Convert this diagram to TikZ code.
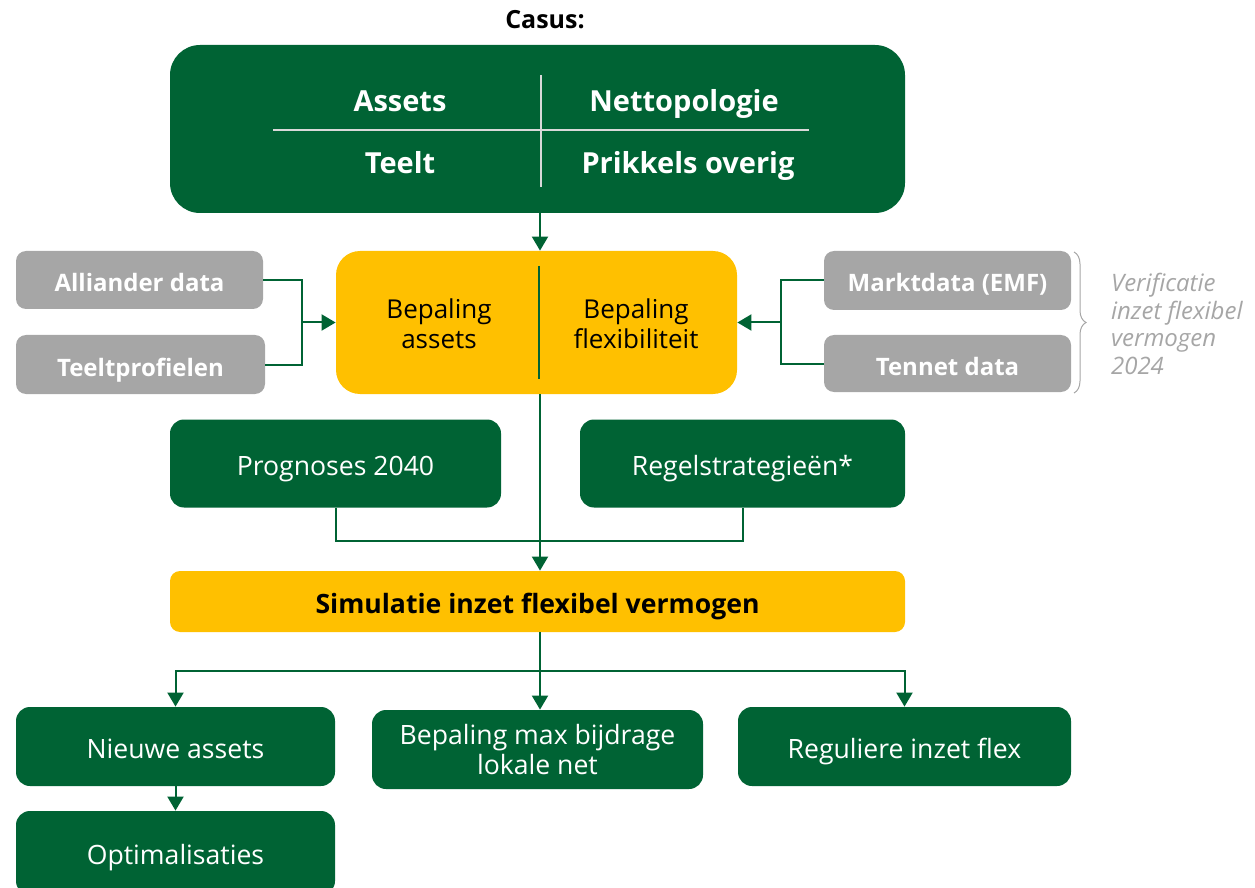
\documentclass[tikz,border=0pt]{standalone}
\usepackage{fontspec}
\setmainfont{Open Sans}
\usetikzlibrary{arrows.meta,decorations.pathreplacing}
\definecolor{dgreen}{RGB}{0,99,52}
\definecolor{dyellow}{RGB}{255,192,0}
\definecolor{dgray}{RGB}{166,166,166}
\newcommand{\fs}[1]{\fontsize{#1}{1.15\dimexpr#1pt\relax}\selectfont}
\tikzset{
	greenbox/.style={fill=dgreen, text=white, rounded corners=7pt, inner sep=0pt, align=center},
	yellowbox/.style={fill=dyellow, text=black, rounded corners=5pt, inner sep=0pt, align=center},
	graybox/.style={fill=dgray, text=white, rounded corners=5pt, inner sep=0pt, font=\fs{12}\bfseries},
	lowtext/.style={text height=1.2em, text depth=0.05em},
	arr/.style={dgreen, line width=1pt, -{Triangle[length=7pt,width=8pt]}},
	conn/.style={dgreen, line width=1pt},
}

\begin{document}
\begin{tikzpicture}[x=0.5pt, y=-0.5pt]% {{{ Casus flow
	\clip (0,0) rectangle (1255,888);
	\coordinate (axis) at (540,0);

	\node (casus) at (545,20) {\fs{12.5}\bfseries Casus:};

	% top block with the four parts
	\node[greenbox, rounded corners=15pt, minimum width=367.5pt, minimum height=84pt] (top) at (537.5,129) {};
	\draw[white!85!black, line width=0.6pt] (541,75) -- (541,187);
	\draw[white!85!black, line width=0.6pt] (273,130) -- (809,130);
	\node[text=white, font=\fs{14.5}\bfseries, lowtext] (assets) at (400,100) {Assets};
	\node[text=white, font=\fs{14.5}\bfseries, lowtext] (netto) at (684,100) {Nettopologie};
	\node[text=white, font=\fs{14.5}\bfseries, lowtext] (teelt) at (400,162) {Teelt};
	\node[text=white, font=\fs{14.5}\bfseries, lowtext] (prikkels) at (688,162) {Prikkels overig};

	% bepaling
	\node[yellowbox, rounded corners=12pt, minimum width=200.5pt, minimum height=71.5pt] (bep) at (536.5,322.5) {};
	\draw[dgreen, line width=0.6pt] (539,266) -- (539,379);
	\node[font=\fs{13}, align=center] (bepassets) at (439,324) {Bepaling\\assets};
	\node[font=\fs{13}, align=center] (bepflex) at (636,324) {Bepaling\\flexibiliteit};

	% data sources
	\node[graybox, lowtext, minimum width=123.5pt, minimum height=29pt] (alliander) at (139.5,280) {Alliander data};
	\node[graybox, lowtext, minimum width=124.5pt, minimum height=29.5pt] (teeltprof) at (140.5,364.5) {Teeltprofielen};
	\node[graybox, lowtext, minimum width=123.5pt, minimum height=29.5pt] (markt) at (947.5,280.5) {Marktdata (EMF)};
	\node[graybox, lowtext, minimum width=123.5pt, minimum height=28.5pt] (tennet) at (947.5,363.5) {Tennet data};

	\draw[dgray, line width=0.5pt, decorate, decoration={brace, amplitude=6pt}] (1074,252) -- (1074,393);
	\node[text=dgray, font=\fs{12}\itshape, align=left, anchor=west] (verif) at (1104,324) {Verificatie\\inzet flexibel\\vermogen\\2024};

	% scenario inputs
	\node[greenbox, lowtext, minimum width=165.5pt, minimum height=44pt, font=\fs{13.3}] (prog) at (335.5,463.5) {Prognoses 2040};
	\node[greenbox, lowtext, minimum width=162.5pt, minimum height=44pt, font=\fs{13.3}] (regel) at (742.5,463.5) {Regelstrategieën*};

	\node[yellowbox, lowtext, minimum width=367.5pt, minimum height=30.5pt, font=\fs{13.3}\bfseries] (sim) at (537.5,601.5) {Simulatie inzet flexibel vermogen};

	% results
	\node[greenbox, lowtext, minimum width=159.5pt, minimum height=39.5pt, font=\fs{13.3}] (nieuwe) at (175.5,746.5) {Nieuwe assets};
	\node[greenbox, minimum width=165.5pt, minimum height=39.5pt, font=\fs{13.3}] (maxbij) at (537.5,749.5) {Bepaling max bijdrage\\lokale net};
	\node[greenbox, lowtext, minimum width=166.5pt, minimum height=39.5pt, font=\fs{13.3}] (regulier) at (904.5,746.5) {Reguliere inzet flex};
	\node[greenbox, lowtext, minimum width=159.5pt, minimum height=42pt, font=\fs{13.3}] (optim) at (175.5,853) {Optimalisaties};

	% connectors
	\coordinate (ljoin) at (302,322.5);
	\coordinate (rjoin) at (781,322.5);
	\coordinate (bjoin) at (540,541);
	\coordinate (split) at (540,671);

	\draw[arr] (top.south -| axis) -- (bep.north -| axis);
	\draw[conn] (alliander.east) -| (ljoin) |- (teeltprof.east);
	\draw[arr] (ljoin) -- (bep.west);
	\draw[conn] (markt.west) -| (rjoin) |- (tennet.west);
	\draw[arr] (rjoin) -- (bep.east);
	\draw[arr] (bep.south -| axis) -- (sim.north -| axis);
	\draw[conn] (prog.south) |- (bjoin) -| (regel.south);
	\draw[conn] (sim.south -| axis) -- (split);
	\draw[arr] (split) -| (nieuwe.north);
	\draw[arr] (split) -- (maxbij.north -| axis);
	\draw[arr] (split) -| (regulier.north);
	\draw[arr] (nieuwe.south) -- (optim.north);
\end{tikzpicture}
\end{document}
